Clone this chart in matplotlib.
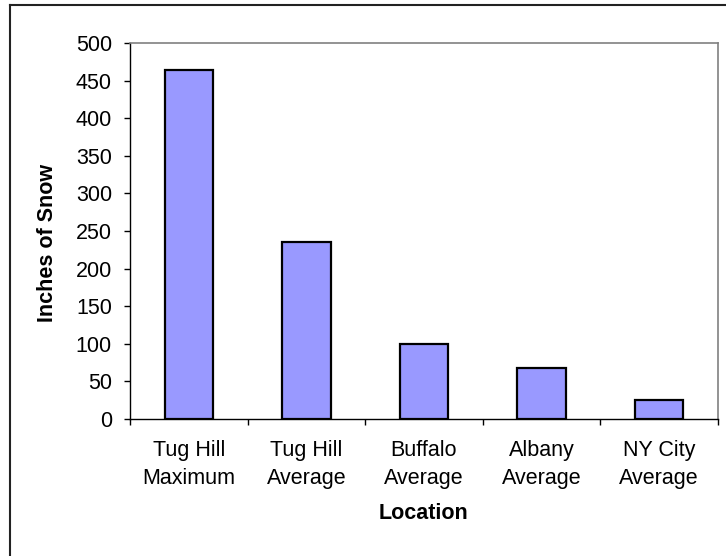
import matplotlib
matplotlib.use("Agg")
import matplotlib.pyplot as plt
from matplotlib.lines import Line2D
import numpy as np

categories = ["Tug Hill\nMaximum", "Tug Hill\nAverage", "Buffalo\nAverage", "Albany\nAverage", "NY City\nAverage"]
snow_inches = [464, 236, 100, 68, 25]
y_ticks = [0, 50, 100, 150, 200, 250, 300, 350, 400, 450, 500]

plt.rcParams['font.family'] = ['Liberation Sans', 'DejaVu Sans']

W, H = 726, 556
fig = plt.figure(figsize=(W/100, H/100), dpi=100)
ax = fig.add_axes([130/W, 1 - 419/H, (718-130)/W, (419-43)/H])

x = np.arange(len(categories))
ax.bar(x, snow_inches, width=0.41, color="#9999FF", edgecolor="black", linewidth=1.6, zorder=3)

ax.set_xlim(-0.5, len(categories) - 0.5)
ax.set_ylim(0, 500)
ax.set_yticks(y_ticks)
ax.set_yticklabels([str(v) for v in y_ticks])
ax.set_xticks(x)
ax.set_xticklabels(categories, linespacing=1.42)
ax.set_xticks(np.arange(-0.5, len(categories)), minor=True)
ax.tick_params(axis='x', which='major', length=0, pad=15, labelsize=15.5)
ax.tick_params(axis='x', which='minor', length=4, width=1, direction='out', color='black')
ax.tick_params(axis='y', which='major', length=4, width=1, direction='out', pad=9, labelsize=15.5)

for s in ['top', 'right']:
    ax.spines[s].set_color('#808080')
    ax.spines[s].set_linewidth(1.2)
for s in ['left', 'bottom']:
    ax.spines[s].set_color('black')
    ax.spines[s].set_linewidth(1.0)

ax.set_ylabel("Inches of Snow", fontsize=15.5, fontweight='bold')
ax.yaxis.set_label_coords((58 - 130) / 588, (419 - 243) / 376)
ax.set_xlabel("Location", fontsize=15.5, fontweight='bold')
ax.xaxis.set_label_coords(0.5, (419 - 503) / 376)

# figure border (left and top edges visible)
fig.add_artist(Line2D([9.5/W, 9.5/W], [0, 1 - 4.5/H], color='#222222', linewidth=1.5, transform=fig.transFigure))
fig.add_artist(Line2D([9.5/W, 1], [1 - 4.5/H, 1 - 4.5/H], color='#222222', linewidth=1.5, transform=fig.transFigure))

fig.savefig("out.png", dpi=100)
